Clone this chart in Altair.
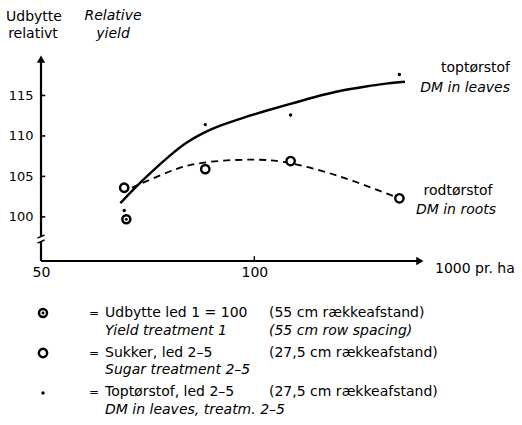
import altair as alt
import pandas as pd

FONT = "DejaVu Sans"

# ---------------- data ----------------
density = [69.5, 88.5, 108.5, 134.0]          # 1000 plants per ha, treatments 2-5
sugar = [103.6, 105.9, 106.9, 102.3]          # relative sugar yield (O)
leaves_dm = [100.8, 111.4, 112.6, 117.6]      # relative DM in leaves (dots)
yield1_density = [70.0]                       # treatment 1
yield1_value = [99.7]

# fitted curve for DM in leaves (solid)
leaves_fit_x = [68.6, 72, 76, 80, 84, 88, 92, 97, 102, 108, 114, 120, 126, 131, 135.3]
leaves_fit_y = [101.7, 103.6, 105.6, 107.5, 109.2, 110.4, 111.3, 112.2, 113.0, 113.9,
                114.8, 115.6, 116.1, 116.5, 116.7]
# fitted curve for DM in roots / sugar (dashed)
roots_fit_x = [71.3, 75.5, 81.8, 86.1, 92.7, 99.7, 106.0, 115.4, 123.1, 131.8, 133.7]
roots_fit_y = [103.6, 104.6, 106.0, 106.6, 107.0, 107.1, 107.0, 105.8, 104.5, 102.7, 102.4]

y_ticks = [100, 105, 110, 115]
x_ticks = [50, 100]
axis_break = [96.95, 97.57]

# ---------------- scales / axes ----------------
X0, X1 = 50, 140
Y0, Y1 = 94.55, 120
xs = alt.Scale(domain=[X0, X1], nice=False, zero=False)
ys = alt.Scale(domain=[Y0, Y1], nice=False, zero=False)

XAXIS = alt.Axis(values=x_ticks, domain=False, ticks=False, grid=False,
                 labelFlush=False, labelPadding=4, labelFontSize=14,
                 labelFont=FONT, labelColor="black", labelOverlap=False, title=None)
YAXIS = alt.Axis(values=y_ticks, domain=False, ticks=False, grid=False,
                 labelPadding=8, labelFontSize=13, labelFont=FONT,
                 labelColor="black", labelOverlap=False, title=None)

PL, PT = 41, 55  # plot origin in page pixels


def X(field="x"):
    return alt.X(f"{field}:Q", scale=xs, axis=XAXIS, title=None)


def Y(field="y"):
    return alt.Y(f"{field}:Q", scale=ys, axis=YAXIS, title=None)


one = alt.Data(values=[{}])

# axis lines
yaxis_df = pd.DataFrame({"x": [X0, X0], "y": [Y0, axis_break[1]],
                         "y2": [axis_break[0], Y1 - 0.8]})
yaxis = alt.Chart(yaxis_df).mark_rule(color="black", strokeWidth=2.2).encode(
    x=X(), y=Y(), y2="y2:Q")
xaxis = alt.Chart(pd.DataFrame({"x": [X0], "x2": [X1 - 1.5], "y": [Y0]})).mark_rule(
    color="black", strokeWidth=2.2).encode(x=X(), x2="x2:Q", y=Y())

ytick_df = pd.DataFrame({"x": [X0] * len(y_ticks), "x2": [X0 + 1.0] * len(y_ticks), "y": y_ticks})
yticks = alt.Chart(ytick_df).mark_rule(color="black", strokeWidth=1.6).encode(
    x=X(), x2="x2:Q", y=Y())
xtick_df = pd.DataFrame({"x": [100], "y": [Y0], "y2": [Y0 + 0.6]})
xticks = alt.Chart(xtick_df).mark_rule(color="black", strokeWidth=1.4).encode(
    x=X(), y=Y(), y2="y2:Q")

breaks = alt.Chart(pd.DataFrame({"x": [X0, X0], "y": axis_break})).mark_point(
    shape="M -1 0.45 L 1 -0.45", size=50, filled=False, stroke="black",
    strokeWidth=1.5, opacity=1).encode(x=X(), y=Y())

arrow_up = alt.Chart(pd.DataFrame({"x": [X0], "y": [Y1 - 0.5]})).mark_point(
    shape="triangle-up", size=70, filled=True, color="black", opacity=1).encode(x=X(), y=Y())
arrow_right = alt.Chart(pd.DataFrame({"x": [X1 - 1.2], "y": [Y0]})).mark_point(
    shape="triangle-right", size=70, filled=True, color="black", opacity=1).encode(x=X(), y=Y())

# curves
leaves_line = alt.Chart(pd.DataFrame({"x": leaves_fit_x, "y": leaves_fit_y})).mark_line(
    color="black", strokeWidth=2.4, interpolate="basis").encode(x=X(), y=Y())
roots_line = alt.Chart(pd.DataFrame({"x": roots_fit_x, "y": roots_fit_y})).mark_line(
    color="black", strokeWidth=1.8, strokeDash=[7, 5], interpolate="basis").encode(x=X(), y=Y())

# markers
sugar_pts = alt.Chart(pd.DataFrame({"x": density, "y": sugar})).mark_point(
    shape="circle", size=70, filled=True, fill="white", stroke="black",
    strokeWidth=2.4, opacity=1).encode(x=X(), y=Y())
leaves_pts = alt.Chart(pd.DataFrame({"x": density, "y": leaves_dm})).mark_circle(
    size=12, color="black", opacity=1).encode(x=X(), y=Y())
y1_df = pd.DataFrame({"x": yield1_density, "y": yield1_value})
y1_outer = alt.Chart(y1_df).mark_point(
    shape="circle", size=64, filled=True, fill="white", stroke="black",
    strokeWidth=2.5, opacity=1).encode(x=X(), y=Y())
y1_inner = alt.Chart(y1_df).mark_circle(size=8, color="black", opacity=1).encode(x=X(), y=Y())


# ---------------- texts ----------------
def label(txt, px, py, italic=False, align="left", size=14):
    return alt.Chart(one).mark_text(
        text=txt, align=align, baseline="middle", fontSize=size, font=FONT,
        fontStyle="italic" if italic else "normal", color="black").encode(
        x=alt.value(px - PL), y=alt.value(py - PT))


def symbol(px, py, **kw):
    return alt.Chart(one).mark_point(opacity=1, **kw).encode(
        x=alt.value(px - PL), y=alt.value(py - PT))


texts = [
    label("Udbytte", 34, 17, align="center"),
    label("relativt", 33, 34, align="center"),
    label("Relative", 113, 16, italic=True, align="center"),
    label("yield", 113, 34, italic=True, align="center"),
    label("toptørstof", 510, 68, align="right"),
    label("DM in leaves", 510, 88, italic=True, align="right"),
    label("rodtørstof", 458, 191, align="center"),
    label("DM in roots", 456, 210, italic=True, align="center"),
    label("1000 pr. ha", 435, 269),
    label("=", 94, 313, align="center", size=12),
    label("Udbytte led 1 = 100", 105, 313),
    label("Yield treatment 1", 105, 331, italic=True),
    label("(55 cm rækkeafstand)", 269, 313),
    label("(55 cm row spacing)", 269, 331, italic=True),
    label("=", 94, 353, align="center", size=12),
    label("Sukker, led 2–5", 105, 353),
    label("Sugar treatment 2–5", 105, 370, italic=True),
    label("(27,5 cm rækkeafstand)", 269, 353),
    label("=", 94, 392, align="center", size=12),
    label("Toptørstof, led 2–5", 105, 392),
    label("DM in leaves, treatm. 2–5", 105, 410, italic=True),
    label("(27,5 cm rækkeafstand)", 269, 392),
]

legend_syms = [
    symbol(43, 313, shape="circle", size=64, filled=True, fill="white", stroke="black", strokeWidth=2.5),
    alt.Chart(one).mark_circle(size=8, color="black", opacity=1).encode(
        x=alt.value(43 - PL), y=alt.value(313 - PT)),
    symbol(43, 353, shape="circle", size=70, filled=True, fill="white", stroke="black", strokeWidth=2.4),
    alt.Chart(one).mark_circle(size=12, color="black", opacity=1).encode(
        x=alt.value(43 - PL), y=alt.value(393 - PT)),
]

chart = alt.layer(
    yaxis, xaxis, yticks, xticks, breaks, arrow_up, arrow_right,
    roots_line, leaves_line, sugar_pts, leaves_pts, y1_outer, y1_inner,
    *texts, *legend_syms
).properties(
    width=384, height=206,
    autosize=alt.AutoSizeParams(type="none"),
    padding={"left": PL, "top": PT, "right": 522 - PL - 384, "bottom": 425 - PT - 206},
    background="white",
).configure_view(stroke=None)

chart.save("out.html", embed_options={"renderer": "svg", "actions": False})
